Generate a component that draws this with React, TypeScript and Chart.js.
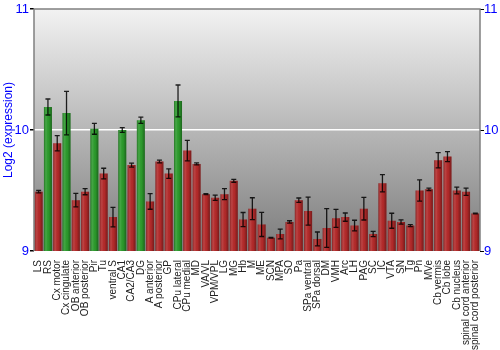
import React, { useEffect, useRef } from "react";
import { Chart, registerables } from "chart.js";

Chart.register(...registerables);

const categories = [
  "LS", "RS", "Cx motor", "Cx cingulate", "OB anterior", "OB posterior", "Pir", "Tu",
  "ventral S", "CA1", "CA2/CA3", "DG", "A anterior", "A posterior", "GP", "CPu lateral",
  "CPu medial", "MD", "VA/VL", "VPM/VPL", "LG", "MG", "Hb", "M",
  "ME", "SCN", "MPA", "SO", "Pa", "SPa ventral", "SPa dorsal", "DM",
  "VMH", "Arc", "LH", "PAG", "SC", "IC", "VTA", "SN",
  "Tg", "Pn", "MVe", "Cb vermis", "Cb lobe", "Cb nucleus", "spinal cord anterior", "spinal cord posterior",
];

const values = [
  9.49, 10.19, 9.89, 10.14, 9.42, 9.49, 10.01, 9.64,
  9.28, 10.0, 9.71, 10.08, 9.41, 9.74, 9.64, 10.24,
  9.83, 9.72, 9.47, 9.44, 9.47, 9.58, 9.26, 9.35,
  9.22, 9.11, 9.14, 9.24, 9.42, 9.33, 9.1, 9.19,
  9.27, 9.28, 9.21, 9.35, 9.14, 9.56, 9.25, 9.24,
  9.21, 9.5, 9.51, 9.75, 9.78, 9.5, 9.49, 9.31,
];

const errors = [
  0.01, 0.066, 0.063, 0.18, 0.056, 0.025, 0.045, 0.044,
  0.08, 0.02, 0.017, 0.026, 0.065, 0.011, 0.039, 0.132,
  0.085, 0.008, 0.003, 0.022, 0.045, 0.012, 0.058, 0.09,
  0.1, 0.003, 0.04, 0.01, 0.018, 0.116, 0.057, 0.16,
  0.074, 0.034, 0.044, 0.094, 0.022, 0.072, 0.062, 0.018,
  0.008, 0.087, 0.01, 0.063, 0.041, 0.028, 0.03, 0.003,
];

const highlighted = ["RS", "Cx cingulate", "Pir", "CA1", "DG", "CPu lateral"];

const yTicks = [9, 10, 11];

const RED = "#b52a2a";
const GREEN = "#2c9c2c";
const BLUE = "#0000ff";

const backgroundPlugin = {
  id: "bgPlugin",
  beforeDraw(chart: any) {
    const { ctx, chartArea } = chart;
    if (!chartArea) return;
    const g = ctx.createLinearGradient(0, chartArea.top, 0, chartArea.bottom);
    g.addColorStop(0, "#f2f2f2");
    g.addColorStop(1, "#7c7c7c");
    ctx.save();
    ctx.fillStyle = g;
    ctx.fillRect(chartArea.left, chartArea.top, chartArea.right - chartArea.left, chartArea.bottom - chartArea.top);
    ctx.restore();
  },
  afterDatasetsDraw(chart: any) {
    const { ctx, chartArea } = chart;
    const meta = chart.getDatasetMeta(0);
    const yScale = chart.scales.y;
    ctx.save();
    ctx.beginPath();
    ctx.rect(chartArea.left, chartArea.top, chartArea.right - chartArea.left, chartArea.bottom - chartArea.top);
    ctx.clip();
    meta.data.forEach((bar: any) => {
      const w = bar.width;
      const left = bar.x - w / 2;
      const bottom = Math.min(bar.base, chartArea.bottom);
      const g = ctx.createLinearGradient(left, 0, left + w, 0);
      g.addColorStop(0, "rgba(0,0,0,0.28)");
      g.addColorStop(0.3, "rgba(255,255,255,0.10)");
      g.addColorStop(0.6, "rgba(0,0,0,0.02)");
      g.addColorStop(1, "rgba(0,0,0,0.35)");
      ctx.fillStyle = g;
      ctx.fillRect(left, bar.y, w, bottom - bar.y);
    });
    ctx.strokeStyle = "rgba(0,0,0,0.85)";
    ctx.lineWidth = 1.3;
    meta.data.forEach((bar: any, i: number) => {
      const v = values[i];
      const e = errors[i];
      const yTop = yScale.getPixelForValue(v + e);
      const yBot = yScale.getPixelForValue(v - e);
      const cap = 2.5;
      ctx.beginPath();
      ctx.moveTo(bar.x, yTop);
      ctx.lineTo(bar.x, yBot);
      ctx.moveTo(bar.x - cap, yTop);
      ctx.lineTo(bar.x + cap, yTop);
      ctx.moveTo(bar.x - cap, yBot);
      ctx.lineTo(bar.x + cap, yBot);
      ctx.stroke();
    });
    ctx.restore();
    ctx.save();
    ctx.strokeStyle = "#808080";
    ctx.lineWidth = 1.5;
    ctx.beginPath();
    ctx.moveTo(chartArea.left, chartArea.bottom);
    ctx.lineTo(chartArea.left, chartArea.top);
    ctx.lineTo(chartArea.right, chartArea.top);
    ctx.lineTo(chartArea.right, chartArea.bottom);
    ctx.stroke();
    ctx.restore();
  },
};

export default function App() {
  const ref = useRef<HTMLCanvasElement | null>(null);
  useEffect(() => {
    if (!ref.current) return;
    const chart = new Chart(ref.current, {
      type: "bar",
      data: {
        labels: categories,
        datasets: [
          {
            data: values,
            backgroundColor: categories.map((c) => (highlighted.includes(c) ? GREEN : RED)),
            borderWidth: 0,
            barPercentage: 0.86,
            categoryPercentage: 1,
          },
        ],
      },
      options: {
        animation: false,
        responsive: false,
        maintainAspectRatio: false,
        layout: { padding: { top: 9, left: 0, right: 0, bottom: 0 } },
        plugins: {
          legend: { display: false },
          tooltip: { enabled: false },
        },
        scales: {
          x: {
            offset: true,
            grid: { display: false },
            border: { display: false },
            ticks: {
              autoSkip: false,
              maxRotation: 90,
              minRotation: 90,
              padding: 1,
              color: "#222",
              font: { family: "Liberation Sans", size: 10 },
            },
            afterFit(scale: any) {
              scale.height = 99;
            },
          },
          y: {
            position: "left",
            min: 9,
            max: 11,
            afterBuildTicks(scale: any) {
              scale.ticks = yTicks.map((v) => ({ value: v }));
            },
            border: { display: false },
            grid: {
              color: (ctx: any) => (ctx.tick && ctx.tick.value === 10 ? "#ffffff" : "rgba(0,0,0,0)"),
              lineWidth: 1.5,
              tickColor: "#000",
              tickLength: 4,
            },
            ticks: {
              color: BLUE,
              padding: 1,
              font: { family: "Liberation Sans", size: 13 },
            },
            title: {
              display: true,
              text: "Log2 (expression)",
              color: BLUE,
              padding: { top: 1, bottom: 0 },
              font: { family: "Liberation Sans", size: 12 },
            },
            afterFit(scale: any) {
              scale.width = 34;
            },
          },
          y2: {
            position: "right",
            min: 9,
            max: 11,
            afterBuildTicks(scale: any) {
              scale.ticks = yTicks.map((v) => ({ value: v }));
            },
            border: { display: false },
            grid: {
              drawOnChartArea: false,
              tickColor: "#000",
              tickLength: 4,
            },
            ticks: {
              color: BLUE,
              padding: 0,
              font: { family: "Liberation Sans", size: 13 },
            },
            afterFit(scale: any) {
              scale.width = 20;
            },
          },
        },
      },
      plugins: [backgroundPlugin],
    });
    return () => chart.destroy();
  }, []);
  return (
    <div style={{ position: "absolute", left: 0, top: 0, width: 500, height: 350 }}>
      <canvas ref={ref} width={500} height={350} style={{ width: 500, height: 350 }} />
    </div>
  );
}
